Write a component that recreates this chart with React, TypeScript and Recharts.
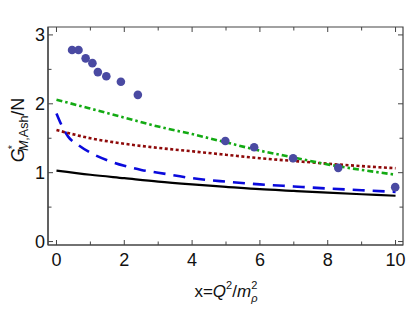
import React from 'react';
import { ComposedChart, Line, Scatter, XAxis, YAxis, ReferenceArea } from 'recharts';

// curve samples
const lineX = [0, 1, 2, 3, 4, 5, 6, 7, 8, 9, 10];
const blackY = [1.03, 0.97, 0.92, 0.87, 0.83, 0.795, 0.76, 0.735, 0.71, 0.687, 0.665];
const redY = [1.62, 1.5, 1.42, 1.36, 1.31, 1.26, 1.21, 1.17, 1.13, 1.095, 1.065];
const greenY = [2.06, 1.93, 1.8, 1.67, 1.56, 1.44, 1.32, 1.22, 1.12, 1.04, 0.97];
const blueX = [0, 0.15, 0.35, 0.65, 1, 1.5, 2, 2.5, 3, 4, 5, 6, 7, 8, 9, 10];
const blueY = [1.86, 1.69, 1.52, 1.4, 1.29, 1.18, 1.1, 1.04, 1.0, 0.92, 0.87, 0.83, 0.8, 0.77, 0.745, 0.72];

// lattice points
const pointX = [0.46, 0.65, 0.86, 1.06, 1.22, 1.47, 1.9, 2.4, 4.98, 5.83, 6.98, 8.31, 9.99];
const pointY = [2.78, 2.78, 2.66, 2.59, 2.46, 2.4, 2.32, 2.13, 1.46, 1.37, 1.21, 1.07, 0.79];

const xTicks = [0, 1, 2, 3, 4, 5, 6, 7, 8, 9, 10];
const yTicks = [0, 0.5, 1, 1.5, 2, 2.5, 3];

const X_DOMAIN: [number, number] = [-0.25, 10.22];
const Y_DOMAIN: [number, number] = [-0.05, 3.115];

const FONT = '"Liberation Sans", Arial, sans-serif';
const FRAME = '#444';
const PLOT_TOP = 27;
const PLOT_RIGHT = 403;

const zip = (xs: number[], ys: number[]) => xs.map((x, i) => ({ x, y: ys[i] }));

const blackData = zip(lineX, blackY);
const redData = zip(lineX, redY);
const greenData = zip(lineX, greenY);
const blueData = zip(blueX, blueY);
const pointData = zip(pointX, pointY);

const isMajorX = (v: number) => v % 2 === 0;
const isMajorY = (v: number) => Number.isInteger(v);

// ticks point inwards, mirrored on the top / right side of the frame
function BottomTick({ x, y, payload }: any) {
  const major = isMajorX(payload.value);
  const len = major ? 5 : 3.5;
  return (
    <g>
      <line x1={x} x2={x} y1={y} y2={y - len} stroke={FRAME} strokeWidth={1} />
      <line x1={x} x2={x} y1={PLOT_TOP} y2={PLOT_TOP + len} stroke={FRAME} strokeWidth={1} />
      {major && (
        <text x={x} y={y + 21} textAnchor="middle" fontSize={18} fontFamily={FONT} fill="#111">
          {payload.value}
        </text>
      )}
    </g>
  );
}

function LeftTick({ x, y, payload }: any) {
  const major = isMajorY(payload.value);
  const len = major ? 5 : 3.5;
  return (
    <g>
      <line x1={x} x2={x + len} y1={y} y2={y} stroke={FRAME} strokeWidth={1} />
      <line x1={PLOT_RIGHT} x2={PLOT_RIGHT - len} y1={y} y2={y} stroke={FRAME} strokeWidth={1} />
      {major && (
        <text x={x - 3} y={y + 6.5} textAnchor="end" fontSize={18} fontFamily={FONT} fill="#111">
          {payload.value}
        </text>
      )}
    </g>
  );
}

function Dot({ cx, cy }: any) {
  return <circle cx={cx} cy={cy} r={4.3} fill="#4A4AA2" />;
}

export default function App() {
  return (
    <div style={{ position: 'absolute', left: 0, top: 0, width: 407, height: 311, background: '#fff' }}>
      <ComposedChart
        width={407}
        height={311}
        margin={{ top: PLOT_TOP, right: 407 - PLOT_RIGHT, bottom: 0, left: 0 }}
        style={{ fontFamily: FONT }}
      >
        <ReferenceArea
          x1={X_DOMAIN[0]}
          x2={X_DOMAIN[1]}
          y1={Y_DOMAIN[0]}
          y2={Y_DOMAIN[1]}
          fill="none"
          stroke={FRAME}
          strokeWidth={1.2}
          ifOverflow="extendDomain"
        />
        <XAxis
          dataKey="x"
          type="number"
          domain={X_DOMAIN}
          allowDataOverflow
          ticks={xTicks}
          interval={0}
          height={66}
          tickSize={0}
          tickMargin={0}
          tickLine={false}
          axisLine={{ stroke: FRAME, strokeWidth: 1.2 }}
          tick={BottomTick}
        />
        <YAxis
          type="number"
          domain={Y_DOMAIN}
          allowDataOverflow
          ticks={yTicks}
          interval={0}
          width={48}
          tickSize={0}
          tickMargin={0}
          tickLine={false}
          axisLine={{ stroke: FRAME, strokeWidth: 1.2 }}
          tick={LeftTick}
        />
        <Line data={blackData} dataKey="y" type="monotone" stroke="#000" strokeWidth={2.2} dot={false} isAnimationActive={false} />
        <Line data={blueData} dataKey="y" type="monotone" stroke="#0A0ADC" strokeWidth={2.6} strokeDasharray="12 8" dot={false} isAnimationActive={false} />
        <Line data={redData} dataKey="y" type="monotone" stroke="#8E0A0A" strokeWidth={2.6} strokeDasharray="3 2.5" dot={false} isAnimationActive={false} />
        <Line data={greenData} dataKey="y" type="monotone" stroke="#13AA13" strokeWidth={2.6} strokeDasharray="6 3 2.5 3" dot={false} isAnimationActive={false} />
        <Scatter data={pointData} dataKey="y" shape={Dot} isAnimationActive={false} />
      </ComposedChart>
      <svg
        width={407}
        height={311}
        style={{ position: 'absolute', left: 0, top: 0, pointerEvents: 'none' }}
      >
        <text
          transform="translate(24,130) rotate(-90)"
          textAnchor="middle"
          fontSize={18}
          fontFamily={FONT}
          fill="#111"
        >
          <tspan fontStyle="italic">G</tspan>
          <tspan fontSize={11} dy={-8} dx={-1}>*</tspan>
          <tspan fontSize={12.5} dy={12} dx={-6}>
            <tspan fontStyle="italic">M</tspan>,Ash
          </tspan>
          <tspan dy={-4}>/N</tspan>
        </text>
        <text x={226} y={297} textAnchor="middle" fontSize={17} fontFamily={FONT} fill="#111">
          x=<tspan fontStyle="italic">Q</tspan>
          <tspan fontSize={11} dy={-8}>2</tspan>
          <tspan dy={8}>/</tspan>
          <tspan fontStyle="italic">m</tspan>
          <tspan fontSize={11} dy={-8}>2</tspan>
          <tspan fontSize={11} fontStyle="italic" dx={-6} dy={13}>ρ</tspan>
        </text>
      </svg>
    </div>
  );
}
